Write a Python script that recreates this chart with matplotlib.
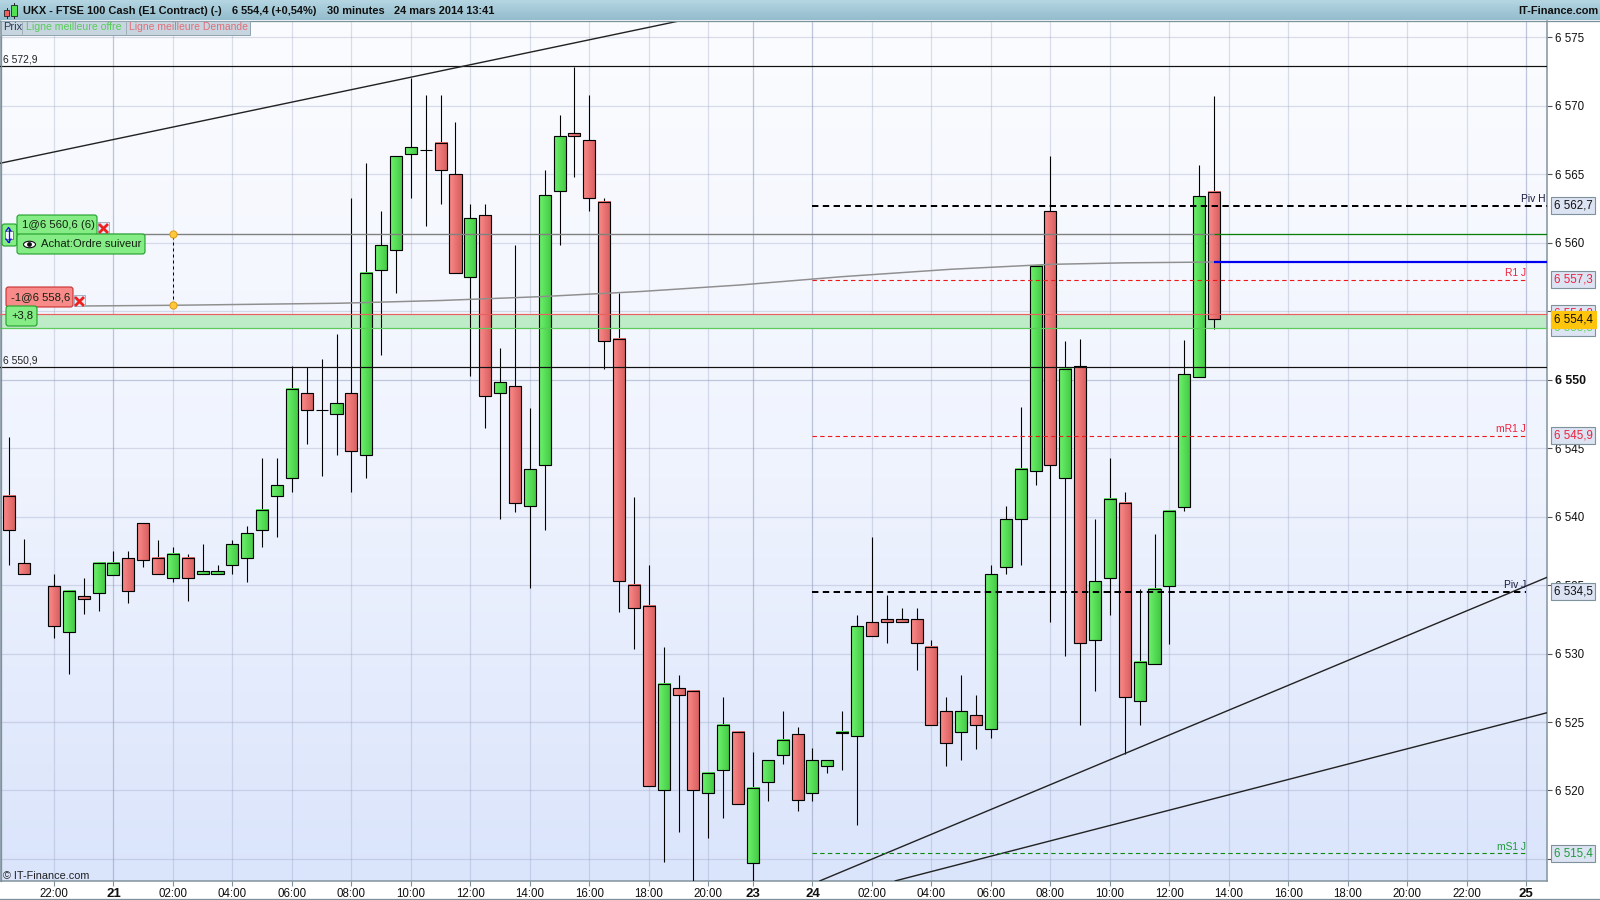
import numpy as np
import matplotlib
matplotlib.use("Agg")
import matplotlib.pyplot as plt
from matplotlib.colors import LinearSegmentedColormap
from matplotlib.patches import Rectangle, FancyBboxPatch, Ellipse, Circle
from matplotlib.transforms import blended_transform_factory

plt.rcParams['font.family'] = ['Liberation Sans', 'DejaVu Sans']

nan = float('nan')
# 30 minute bars, bar index 0..81 (index 2 has no bar)
highs = [6545.8,6538.4,nan,6535.8,6534.6,6535.5,6536.6,6537.5,6537.5,6539.5,6538.3,6537.8,6537.3,6538.0,6536.5,6538.3,
         6539.3,6544.3,6544.3,6551.0,6550.9,6551.5,6553.3,6563.3,6565.8,6562.3,6566.3,6572.0,6570.8,6570.8,6568.8,6562.8,
         6562.8,6552.3,6559.8,6547.9,6565.3,6569.3,6572.8,6570.8,6563.3,6556.3,6541.4,6536.5,6530.5,6528.4,6527.3,6521.3,
         6526.8,6524.3,6522.8,6522.2,6525.8,6524.6,6523.1,6522.2,6525.8,6532.8,6538.5,6534.3,6533.3,6533.3,6531.0,6526.8,
         6528.4,6527.0,6536.5,6540.8,6548.0,6558.3,6566.3,6552.8,6553.0,6539.8,6544.3,6541.8,6534.7,6538.7,6540.4,6552.9,
         6565.7,6570.7]
opens = [6541.5,6536.6,nan,6534.9,6531.6,6534.2,6534.4,6535.7,6537.0,6539.5,6537.0,6535.5,6537.0,6535.8,6535.8,6536.5,
         6537.0,6539.0,6541.5,6542.8,6549.0,6547.8,6547.5,6549.0,6544.5,6558.0,6559.5,6566.5,6566.8,6567.3,6565.0,6557.5,
         6562.0,6549.0,6549.5,6540.8,6543.8,6563.8,6568.0,6567.5,6563.0,6553.0,6535.0,6533.5,6520.0,6527.5,6527.3,6519.8,
         6521.5,6524.3,6514.7,6520.6,6522.6,6524.1,6519.8,6521.8,6524.2,6524.0,6532.3,6532.5,6532.5,6532.5,6530.5,6525.8,
         6524.3,6525.5,6524.5,6536.3,6539.8,6543.3,6562.3,6542.8,6551.0,6531.0,6535.5,6541.0,6526.5,6529.2,6534.9,6540.7,
         6550.2,6563.7]
closes = [6539.0,6535.8,nan,6532.0,6534.6,6534.0,6536.6,6536.6,6534.6,6536.8,6535.8,6537.3,6535.5,6536.0,6536.0,6538.0,
          6538.8,6540.5,6542.3,6549.3,6547.8,6547.8,6548.3,6544.8,6557.8,6559.8,6566.3,6567.0,6566.8,6565.3,6557.8,6561.8,
          6548.8,6549.8,6541.0,6543.5,6563.5,6567.8,6567.8,6563.3,6552.8,6535.3,6533.3,6520.3,6527.8,6527.0,6520.0,6521.3,
          6524.8,6519.0,6520.2,6522.2,6523.7,6519.3,6522.2,6522.2,6524.3,6532.0,6531.3,6532.3,6532.3,6530.8,6524.8,6523.5,
          6525.8,6524.8,6535.8,6539.8,6543.5,6558.3,6543.8,6550.8,6530.8,6535.3,6541.3,6526.8,6529.4,6534.7,6540.4,6550.4,
          6563.4,6554.4]
lows = [6536.5,6535.8,nan,6531.1,6528.5,6532.9,6533.1,6535.7,6533.7,6536.3,6535.8,6535.2,6533.8,6535.8,6535.8,6535.8,
        6535.2,6537.8,6538.5,6541.8,6545.3,6543.0,6544.5,6541.8,6542.8,6551.8,6556.3,6563.3,6561.2,6562.8,6557.8,6550.3,
        6546.5,6539.8,6540.3,6534.8,6539.0,6559.8,6564.8,6562.3,6550.8,6533.0,6530.3,6520.3,6514.8,6517.0,6513.4,6516.5,
        6518.0,6519.0,6513.4,6519.2,6521.9,6518.5,6519.2,6521.3,6521.5,6517.5,6531.3,6530.8,6532.3,6528.8,6524.8,6521.8,
        6522.2,6523.0,6523.8,6535.8,6536.5,6542.3,6532.3,6529.8,6524.8,6527.3,6532.8,6522.7,6524.8,6529.2,6530.7,6540.4,
        6550.2,6553.7]

time_pos = [3,7,11,15,19,23,27,31,35,39,43,47,50,54,58,62,66,70,74,78,82,86,90,94,98,102]
time_lab = ['22:00','21','02:00','04:00','06:00','08:00','10:00','12:00','14:00','16:00','18:00','20:00',
            '23','24','02:00','04:00','06:00','08:00','10:00','12:00','14:00','16:00','18:00','20:00','22:00','25']
day_labels = {'21','23','24','25'}
price_ticks = [6575,6570,6565,6560,6555,6550,6545,6540,6535,6530,6525,6520,6515]

resistance = 6572.9
support = 6550.9
piv_h, piv_j = 6562.7, 6534.5
r1_j, mr1_j, ms1_j = 6557.3, 6545.9, 6515.4
order_price, stop_price = 6560.6, 6558.6
best_ask, best_bid = 6554.8, 6553.8

trend1_x, trend1_y = [-0.625, 45.03], [6565.8, 6576.19]
trend2_x, trend2_y = [54.5, 103.4], [6513.4, 6535.57]
trend3_x, trend3_y = [59.57, 103.4], [6513.4, 6525.68]
curve_x = [5.1, 11, 22.2, 29, 35.7, 42.5, 49.1, 56, 63.3, 70, 75, 81]
curve_y = [6555.38, 6555.43, 6555.58, 6555.78, 6556.06, 6556.44, 6556.91, 6557.52, 6558.06, 6558.42, 6558.53, 6558.59]

W, H = 1600, 900
L, R, T, B = 0, 1547, 21, 881
x0 = (L - 9.3) / 14.873
x1 = (R - 9.3) / 14.873
ylo, yhi = 6513.39, 6576.19
START, PIV_END = 54, 102

fig = plt.figure(figsize=(16, 9), dpi=100, facecolor='white')
ax = fig.add_axes([L / W, 1 - B / H, (R - L) / W, (B - T) / H])
PX = 0.72  # one pixel in points

# background gradient
bg = LinearSegmentedColormap.from_list('bg', ['#FBFCFF', '#F0F4FE', '#DAE4FB'])
ax.imshow(np.linspace(0, 1, 256).reshape(-1, 1), cmap=bg, aspect='auto', extent=[0, 1, 0, 1],
          transform=ax.transAxes, zorder=0)

# grid
GRID = '#8E99BC'
for p in price_ticks:
    ax.axhline(p, color=GRID, alpha=0.5 if p == 6550 else 0.3, lw=1.25 * PX, zorder=1)
for pos, lab in zip(time_pos, time_lab):
    ax.axvline(pos, color=GRID, alpha=0.55 if lab in day_labels else 0.3, lw=1.25 * PX, zorder=1)

# best bid/ask band
ax.axhspan(best_bid, best_ask, color='#BEEBC8', lw=0, zorder=2)

# candles
up = LinearSegmentedColormap.from_list('up', ['#6CF26C', '#42C842'])
dn = LinearSegmentedColormap.from_list('dn', ['#FB8A8A', '#D85E5E'])
ramp = np.linspace(0, 1, 16).reshape(1, -1)
hw = 0.405
for i, (h, o, c, l) in enumerate(zip(highs, opens, closes, lows)):
    if np.isnan(h):
        continue
    ax.vlines(i, l, h, color='black', lw=1.1 * PX, zorder=4)
    if o == c:
        ax.hlines(o, i - hw, i + hw, color='black', lw=1.1 * PX, zorder=5)
        continue
    top, bot = max(o, c), min(o, c)
    ax.imshow(ramp, cmap=up if c > o else dn, aspect='auto', extent=[i - hw, i + hw, bot, top],
              zorder=5, interpolation='bilinear')
    ax.add_patch(Rectangle((i - hw, bot), 2 * hw, top - bot, fc='none', ec='black', lw=1.15 * PX, zorder=6))

# support / resistance and trend lines
ax.axhline(resistance, color='#111111', lw=1.2 * PX, zorder=7)
ax.axhline(support, color='#111111', lw=1.2 * PX, zorder=7)
ax.plot(trend1_x, trend1_y, color='#222222', lw=1.4 * PX, zorder=7)
ax.plot(trend2_x, trend2_y, color='#222222', lw=1.4 * PX, zorder=7)
ax.plot(trend3_x, trend3_y, color='#222222', lw=1.4 * PX, zorder=7)

# band edges
ax.axhline(best_ask, color='#E86060', lw=1.2 * PX, zorder=7)
ax.axhline(best_bid, color='#5CCB5C', lw=1.2 * PX, zorder=7)

# pivots
ax.hlines(piv_h, START, x1, color='black', lw=2 * PX, linestyles=(0, (3.2, 2.2)), zorder=8)
ax.hlines(piv_j, START, PIV_END, color='black', lw=2 * PX, linestyles=(0, (3.2, 2.2)), zorder=8)
ax.hlines(r1_j, START, PIV_END, color='#F01818', lw=1.1 * PX, linestyles=(0, (4, 3)), zorder=8)
ax.hlines(mr1_j, START, PIV_END, color='#F01818', lw=1.1 * PX, linestyles=(0, (4, 3)), zorder=8)
ax.hlines(ms1_j, START, PIV_END, color='#0E8A0E', lw=1.1 * PX, linestyles=(0, (4, 3)), zorder=8)

# order lines
ax.hlines(order_price, 4, 81, color='#808080', lw=1.4 * PX, zorder=8)
ax.plot(curve_x, curve_y, color='#8F8F8F', lw=1.5 * PX, zorder=8)
ax.hlines(order_price, 81, x1, color='#0A7D0A', lw=1.3 * PX, zorder=8)
ax.hlines(stop_price, 81, x1, color='#0000F0', lw=2.2 * PX, zorder=8)
ax.vlines(11, curve_y[1], order_price, color='black', lw=1 * PX, linestyles=(0, (3, 3)), zorder=8)
ax.plot([11, 11], [curve_y[1], order_price], ls='none', marker='o', ms=5.2, mfc='#FFC83C', mec='#E09A10', mew=0.7, zorder=9)

ax.set_xlim(x0, x1)
ax.set_ylim(ylo, yhi)

# axes cosmetics
ax.set_facecolor('white')
for s in ['top']:
    ax.spines[s].set_visible(False)
for s in ['left', 'right', 'bottom']:
    ax.spines[s].set_color('#7F919B')
    ax.spines[s].set_linewidth(1.5 * PX)
ax.yaxis.tick_right()
ax.set_yticks(price_ticks)
ax.set_yticklabels([f"6 {p - 6000}" for p in price_ticks], fontsize=8.3, color='#101010')
ax.tick_params(axis='y', length=3.5, width=0.8, color='#555555', pad=2.4)
for t, p in zip(ax.get_yticklabels(), price_ticks):
    if p == 6550:
        t.set_fontweight('bold')
        t.set_fontsize(8.8)
ax.set_xticks(time_pos)
ax.set_xticklabels(time_lab, fontsize=8.3, color='#101010')
ax.tick_params(axis='x', length=3.5, width=0.8, color='#7F919B', pad=1.6)
for t, lab in zip(ax.get_xticklabels(), time_lab):
    if lab in day_labels:
        t.set_fontweight('bold')
        t.set_fontsize(9.5)

# level texts in the chart
ty = blended_transform_factory(ax.transAxes, ax.transData)
ax.text(3 / R, resistance + 0.13, '6 572,9', fontsize=7.4, color='#222222', transform=ty, va='bottom', zorder=10)
ax.text(3 / R, support + 0.13, '6 550,9', fontsize=7.4, color='#222222', transform=ty, va='bottom', zorder=10)
ax.text(1 - 1.5 / R, piv_h + 0.13, 'Piv H', fontsize=7.4, color='#1A1A40', transform=ty, ha='right', va='bottom', zorder=10)
for price, txt, col in [(piv_j, 'Piv J', '#1A1A40'), (r1_j, 'R1 J', '#F0203C'),
                        (mr1_j, 'mR1 J', '#F0203C'), (ms1_j, 'mS1 J', '#1F9A3A')]:
    ax.text(PIV_END - 0.02, price + 0.13, txt, fontsize=7.4, color=col, ha='right', va='bottom', zorder=10)
ax.text(3 / R, 0, '© IT-Finance.com', fontsize=7.8, color='#202020', transform=ax.transAxes, va='bottom', zorder=10)

# price tags on the axis
TAGX = 1554 / R
def tag(price, txt, col, face='#DCE3F3', edge='#7F919B', weight='normal'):
    ax.text(TAGX, price, txt, fontsize=8.3, color=col, transform=ty, va='center', ha='left', clip_on=False,
            fontweight=weight, zorder=30,
            bbox=dict(boxstyle='square,pad=0.22', fc=face, ec=edge, lw=0.8))

tag(piv_h, '6 562,7', '#101010')
tag(r1_j, '6 557,3', '#F0203C')
tag(mr1_j, '6 545,9', '#F0203C')
tag(piv_j, '6 534,5', '#101010')
tag(ms1_j, '6 515,4', '#1F9A3A')
tag(best_ask, '6 554,8', '#F0203C')
tag(best_bid, '6 553,8', '#60D060')
tag(6554.4, '6 554,4', '#101010', face='#FFC40C', edge='#FFC40C')

# window chrome in pixel space
ov = fig.add_axes([0, 0, 1, 1], zorder=20)
ov.patch.set_alpha(0)
ov.axis('off')
head = LinearSegmentedColormap.from_list('h', ['#B5D5E2', '#93BCCC'])
ov.imshow(np.linspace(0, 1, 32).reshape(-1, 1), cmap=head, aspect='auto', extent=[0, W, 20, 0], zorder=1)
ov.plot([0, W], [20.5, 20.5], color='#7A929E', lw=1.3 * PX, zorder=2)
ov.plot([0, W], [899.3, 899.3], color='#7F919B', lw=1.3 * PX, zorder=2)
ov.plot([0.5, 0.5], [21, 881], color='#7F919B', lw=1.3 * PX, zorder=2)

# header icon
ov.plot([6.5, 6.5], [8, 18], color='#222222', lw=0.7)
ov.add_patch(Rectangle((4, 10), 5, 6, fc='#F06060', ec='#222222', lw=0.6, zorder=3))
ov.plot([14, 14], [3, 18], color='#222222', lw=0.7)
ov.add_patch(Rectangle((11, 5), 6, 11, fc='#50E050', ec='#222222', lw=0.6, zorder=3))

HDR = dict(fontsize=7.95, fontweight='bold', color='#101010', va='center', zorder=4)
ov.text(23, 11, 'UKX - FTSE 100 Cash (E1 Contract) (-)', **HDR)
ov.text(232, 11, '6 554,4 (+0,54%)', **HDR)
ov.text(327, 11, '30 minutes', **HDR)
ov.text(394, 11, '24 mars 2014 13:41', **HDR)
ov.text(1598, 11, 'IT-Finance.com', ha='right', **HDR)

# tabs
ov.add_patch(Rectangle((1, 21), 249, 13.5, fc='#C6D5DF', ec='#8FA3AE', lw=0.7, zorder=3))
for xs in (22, 126):
    ov.plot([xs, xs], [21, 34.5], color='#9FB0BB', lw=0.7, zorder=4)
TAB = dict(va='center', zorder=5)
ov.text(3.5, 27.5, 'Prix', color='#2A3A55', fontsize=7.9, **TAB)
ov.text(26, 27.5, 'Ligne meilleure offre', color='#58CC58', fontsize=7.6, **TAB)
ov.text(129, 27.5, 'Ligne meilleure Demande', color='#E36E78', fontsize=7.5, **TAB)

def box(x, y, w, h, fc, ec, z=5):
    ov.add_patch(FancyBboxPatch((x + 1.5, y + 1.5), w - 3, h - 3, boxstyle='round,pad=1.5,rounding_size=2.5',
                                fc=fc, ec=ec, lw=0.8, zorder=z))

def cross(x, y):
    ov.add_patch(Rectangle((x, y), 11, 11, fc='#E6ECF6', ec='#9AA8B8', lw=0.6, zorder=5))
    ov.plot([x + 2, x + 9], [y + 3, y + 10], color='#EE2020', lw=2, zorder=6)
    ov.plot([x + 9, x + 2], [y + 3, y + 10], color='#EE2020', lw=2, zorder=6)

G_F, G_E = '#86EC86', '#1F9F2A'
R_F, R_E = '#F88A8A', '#C83030'
TXT = dict(fontsize=8.1, va='center', color='#102010', zorder=7)
# order widgets
box(2, 224, 15, 22, G_F, G_E)
ov.add_patch(Rectangle((4.5, 231), 8, 8, fc='#F4F8FF', ec='#555555', lw=0.5, zorder=6))
ov.plot([8.5, 8.5], [228, 242], color='#1010E0', lw=0.9, zorder=7)
ov.plot([6, 8.5, 11], [231, 227.5, 231], color='#1010E0', lw=0.9, zorder=7)
ov.plot([6, 8.5, 11], [239, 242.5, 239], color='#1010E0', lw=0.9, zorder=7)
box(17, 215, 80, 20, G_F, G_E)
ov.text(22, 225, '1@6 560,6 (6)', **TXT)
cross(98, 222)
box(17, 234, 128, 20, G_F, G_E)
ov.add_patch(Ellipse((29.5, 244.5), 12, 6.5, fc='white', ec='#101010', lw=0.8, zorder=7))
ov.add_patch(Circle((29.5, 244.5), 2.4, fc='#101010', ec='none', zorder=8))
ov.text(41, 244, 'Achat:Ordre suiveur', **TXT)
box(6, 287, 67, 20, R_F, R_E)
ov.text(11, 297, '-1@6 558,6', **TXT)
cross(74, 295)
box(6, 306, 31, 20, G_F, G_E)
ov.text(11, 316, '+3,8', **TXT)

ov.set_xlim(0, W)
ov.set_ylim(H, 0)

fig.savefig('out.png', dpi=100, facecolor='white')
